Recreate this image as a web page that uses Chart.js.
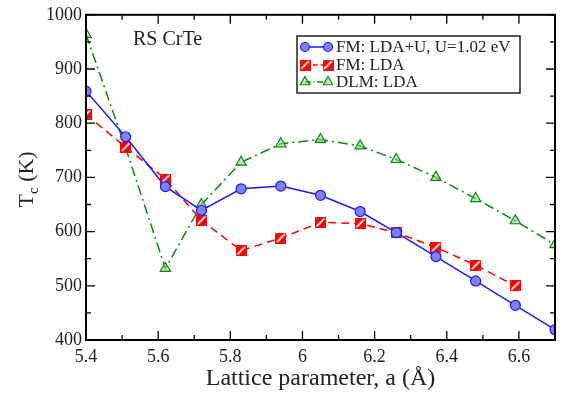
<!DOCTYPE html>
<html>
<head>
<meta charset="utf-8">
<script src="https://cdn.jsdelivr.net/npm/chart.js@4"></script>
<style>
  html, body { margin: 0; padding: 0; background: #fff; }
  #grafico { display: block; }
</style>
</head>
<body>
<canvas id="grafico" width="567" height="397"></canvas>
<script>
// Datos
const parametroRed = [5.40, 5.51, 5.62, 5.72, 5.83, 5.94, 6.05, 6.16, 6.26, 6.37, 6.48, 6.59, 6.70];
const tcLdaU = [859, 775, 683, 639, 679, 684, 667, 637, 598, 554, 509, 464, 419];
const tcLda  = [816, 756, 697, 621, 565, 588, 617, 615, 598, 571, 538, 500, null];
const tcDlm  = [964, 754, 532, 650, 728, 762, 770, 758, 733, 700, 661, 620, 576];
const nombresSeries = ["FM: LDA+U, U=1.02 eV", "FM: LDA", "DLM: LDA"];
const ticksX = [5.4, 5.6, 5.8, 6.0, 6.2, 6.4, 6.6];
const ticksY = [400, 500, 600, 700, 800, 900, 1000];

const fuente = "'Liberation Serif', 'DejaVu Serif', serif";

// marcador cuadrado rojo con franja blanca
function marcadorCuadrado(lado){
    const c = document.createElement("canvas");
    c.width = lado; c.height = lado;
    const g = c.getContext("2d");
    g.fillStyle = "#ff0000";
    g.fillRect(0, 0, lado, lado);
    g.save();
    g.beginPath(); g.rect(1.3, 1.3, lado - 2.6, lado - 2.6); g.clip();
    g.strokeStyle = "#ffffff";
    g.lineWidth = 1.8;
    g.beginPath(); g.moveTo(0, lado); g.lineTo(lado, 0); g.stroke();
    g.beginPath(); g.moveTo(-4, lado - 5); g.lineTo(lado - 5, -4); g.stroke();
    g.beginPath(); g.moveTo(5, lado + 4); g.lineTo(lado + 4, 5); g.stroke();
    g.restore();
    return c;
}
const imgCuadrado = marcadorCuadrado(11);

const puntos = [
    parametroRed.map((x, i) => ({x: x, y: tcLdaU[i]})),
    parametroRed.map((x, i) => ({x: x, y: tcLda[i]})).filter(p => p.y !== null),
    parametroRed.map((x, i) => ({x: x, y: tcDlm[i]}))
];

// marco, ticks hacia dentro, titulo eje Y, texto y leyenda
const decoracion = {
    id: "decoracion",
    afterDraw(chart){
        const ctx = chart.ctx;
        const a = chart.chartArea;
        const sx = chart.scales.x, sy = chart.scales.y;
        ctx.save();
        ctx.strokeStyle = "#000";
        ctx.lineWidth = 2;
        ctx.strokeRect(a.left, a.top, a.right - a.left, a.bottom - a.top);
        ctx.lineWidth = 1.3;
        ctx.beginPath();
        const menorX = ticksX.map(v => v + 0.1);
        ticksX.forEach(v => {
            const px = sx.getPixelForValue(v);
            ctx.moveTo(px, a.bottom); ctx.lineTo(px, a.bottom - 9);
            ctx.moveTo(px, a.top); ctx.lineTo(px, a.top + 9);
        });
        menorX.forEach(v => {
            if (v > sx.max + 1e-6) return;
            const px = sx.getPixelForValue(v);
            ctx.moveTo(px, a.bottom); ctx.lineTo(px, a.bottom - 5);
            ctx.moveTo(px, a.top); ctx.lineTo(px, a.top + 5);
        });
        ticksY.forEach((v, i) => {
            const py = sy.getPixelForValue(v);
            ctx.moveTo(a.left, py); ctx.lineTo(a.left + 9, py);
            ctx.moveTo(a.right, py); ctx.lineTo(a.right - 9, py);
            if (i < ticksY.length - 1){
                const pm = sy.getPixelForValue(v + 50);
                ctx.moveTo(a.left, pm); ctx.lineTo(a.left + 5, pm);
                ctx.moveTo(a.right, pm); ctx.lineTo(a.right - 5, pm);
            }
        });
        ctx.stroke();

        // titulo eje Y con subindice
        ctx.fillStyle = "#222";
        ctx.translate(33, (a.top + a.bottom) / 2 + 2);
        ctx.rotate(-Math.PI / 2);
        ctx.textBaseline = "alphabetic";
        ctx.font = "22px " + fuente;
        const wT = ctx.measureText("T").width;
        ctx.font = "15px " + fuente;
        const wc = ctx.measureText("c").width;
        ctx.font = "22px " + fuente;
        const wK = ctx.measureText(" (K)").width;
        let x0 = -(wT + wc + wK) / 2;
        ctx.fillText("T", x0, 0);
        ctx.font = "15px " + fuente;
        ctx.fillText("c", x0 + wT, 5);
        ctx.font = "22px " + fuente;
        ctx.fillText(" (K)", x0 + wT + wc, 0);
        ctx.restore();

        // etiqueta del material
        ctx.save();
        ctx.fillStyle = "#222";
        ctx.font = "20px " + fuente;
        ctx.textBaseline = "alphabetic";
        ctx.fillText("RS CrTe", 133, 45);
        ctx.restore();

        // leyenda
        ctx.save();
        ctx.fillStyle = "#fff";
        ctx.fillRect(297, 36, 223, 57);
        ctx.strokeStyle = "#000";
        ctx.lineWidth = 1.3;
        ctx.strokeRect(297, 36, 223, 57);
        const filas = [47, 65, 82];
        chart.data.datasets.forEach((ds, i) => {
            const y = filas[i];
            ctx.strokeStyle = ds.borderColor;
            ctx.lineWidth = ds.borderWidth;
            ctx.setLineDash(ds.borderDash ? ds.borderDash.map(d => d * 0.6) : []);
            ctx.beginPath(); ctx.moveTo(305, y); ctx.lineTo(328, y); ctx.stroke();
            ctx.setLineDash([]);
            [305, 328].forEach(px => {
                ctx.fillStyle = ds.pointBackgroundColor;
                ctx.strokeStyle = ds.pointBorderColor;
                ctx.lineWidth = ds.pointBorderWidth;
                Chart.helpers.drawPoint(ctx, {pointStyle: ds.pointStyle, radius: ds.pointRadius - 0.5, borderWidth: ds.pointBorderWidth, rotation: 0}, px, y);
            });
            ctx.fillStyle = "#222";
            ctx.font = "17px " + fuente;
            ctx.textBaseline = "middle";
            ctx.fillText(ds.label, 336, y + 1);
        });
        ctx.restore();
    }
};

new Chart(document.getElementById("grafico").getContext("2d"), {
    type: "scatter",
    data: {
        datasets: [
            {
                label: nombresSeries[0],
                data: puntos[0],
                showLine: true,
                borderColor: "#1a1aff",
                borderWidth: 1.5,
                pointStyle: "circle",
                pointRadius: 5,
                pointBackgroundColor: "#8080f8",
                pointBorderColor: "#1a1aff",
                pointBorderWidth: 1.2
            },
            {
                label: nombresSeries[1],
                data: puntos[1],
                showLine: true,
                borderColor: "#ff0000",
                borderWidth: 1.5,
                borderDash: [8, 5],
                pointStyle: imgCuadrado,
                pointRadius: 5,
                pointBackgroundColor: "#ff0000",
                pointBorderColor: "#ff0000",
                pointBorderWidth: 1
            },
            {
                label: nombresSeries[2],
                data: puntos[2],
                showLine: true,
                borderColor: "#0a8a0a",
                borderWidth: 1.5,
                borderDash: [10, 4, 2, 4],
                pointStyle: "triangle",
                pointRadius: 6,
                pointBackgroundColor: "rgba(150,215,150,0.55)",
                pointBorderColor: "#0a8a0a",
                pointBorderWidth: 1.2
            }
        ]
    },
    options: {
        responsive: false,
        animation: false,
        devicePixelRatio: 1,
        layout: { padding: { left: 0, right: 12, top: 13, bottom: 0 } },
        plugins: { legend: { display: false }, tooltip: { enabled: false } },
        scales: {
            x: {
                type: "linear",
                min: 5.4, max: 6.7,
                afterBuildTicks: s => { s.ticks = ticksX.map(v => ({value: v})); },
                afterFit: s => { s.height = 57; },
                grid: { display: false, drawTicks: false },
                border: { display: false },
                ticks: {
                    color: "#222", padding: 6,
                    font: { family: fuente, size: 18 },
                    callback: v => String(+v.toFixed(1))
                },
                title: {
                    display: true, text: "Lattice parameter, a (Å)",
                    color: "#222", font: { family: fuente, size: 24 }, padding: { top: 0, bottom: 4 }
                }
            },
            y: {
                min: 400, max: 1000,
                afterBuildTicks: s => { s.ticks = ticksY.map(v => ({value: v})); },
                afterFit: s => { s.width = 86; },
                grid: { display: false, drawTicks: false },
                border: { display: false },
                ticks: {
                    color: "#222", padding: 4,
                    font: { family: fuente, size: 18 },
                    callback: v => String(v)
                }
            }
        }
    },
    plugins: [decoracion]
});
</script>
</body>
</html>
